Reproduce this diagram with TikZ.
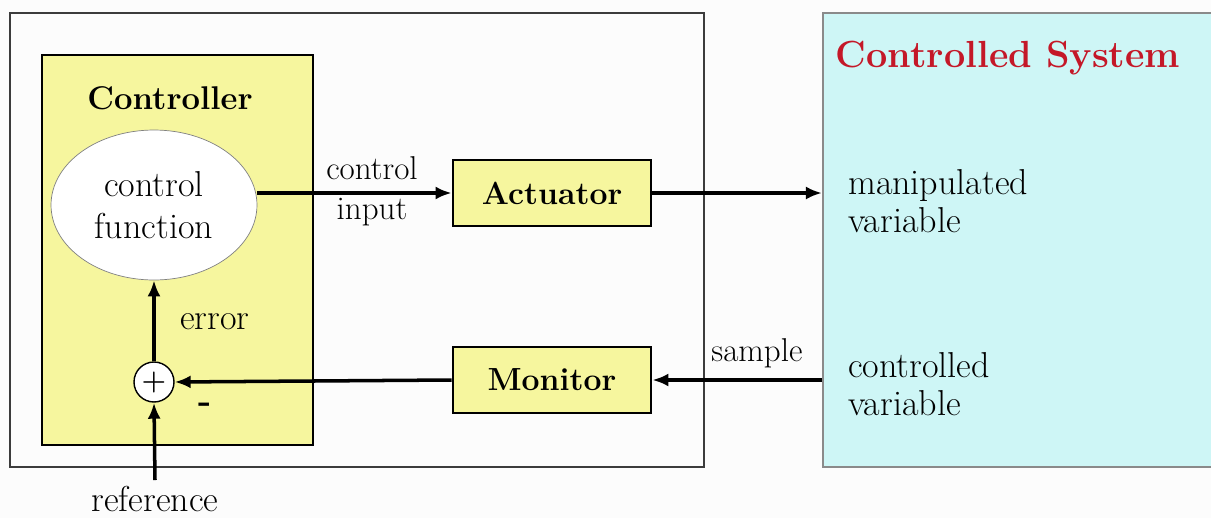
\documentclass[tikz,border=0pt]{standalone}
\usetikzlibrary{shapes,arrows,arrows.meta,positioning,calc}
\definecolor{paleyellow}{RGB}{246,246,158}
\definecolor{palecyan}{RGB}{206,246,246}
\definecolor{darkred}{RGB}{196,24,40}
\definecolor{framegray}{RGB}{60,60,60}

\begin{document}
\begin{tikzpicture}[x=0.02cm,y=-0.02cm,
  block/.style={draw,line width=1.6pt,fill=paleyellow,minimum width=3.96cm,minimum height=1.32cm,
    font=\fontsize{18.2}{21}\selectfont\bfseries},
  flow/.style={-{Latex[length=3.2mm,width=2.6mm]},line width=2pt},
  lbl/.style={font=\fontsize{20.5}{23.8}\selectfont,align=center},
  small/.style={font=\fontsize{18.8}{22.7}\selectfont,align=center}]
  \useasboundingbox[fill=white!98!gray] (0,0) rectangle (1211,518);

  % Frames
  \node[draw=framegray,line width=1.4pt,minimum width=13.88cm,minimum height=9.08cm] (outer) at (357,240) {};
  \node[draw=framegray!60,line width=1.2pt,fill=palecyan,minimum width=8.2cm,minimum height=9.08cm] (sys) at (1028,240) {};
  \node[draw,line width=1.6pt,fill=paleyellow,minimum width=5.42cm,minimum height=7.8cm] (ctrlbox) at (177.5,250) {};

  % Controller parts
  \node[font=\fontsize{18.7}{21}\selectfont\bfseries] (ctrllbl) at (170,98) {Controller};
  \node[ellipse,draw=gray,thin,fill=white,minimum width=4.12cm,minimum height=3cm,lbl] (fn) at (154,205) {control\\function};
  \node[circle,draw,thick,fill=white,minimum size=0.8cm,inner sep=0pt,font=\fontsize{16}{18}\selectfont\bfseries] (sum) at (154,382) {+};
  \node[lbl] (errlbl) at (215,322) {error};
  \node[font=\fontsize{20}{24}\selectfont\bfseries] (minus) at (205,408) {-};
  \node[lbl] (reflbl) at (155,499) {reference};

  % Actuator and monitor
  \node[block] (act) at (552,193) {Actuator};
  \node[block] (mon) at (552,380) {Monitor};
  \node[small] (cinlbl) at (372,191) {control\\input};
  \node[small] (smplbl) at (757,353) {sample};

  % Controlled system texts
  \node[font=\fontsize{21.5}{26}\selectfont\bfseries,text=darkred] (syslbl) at (1008,58) {Controlled System};
  \node[lbl,anchor=west,align=left] (manlbl) at (842,201) {manipulated\\[-2pt]variable};
  \node[lbl,anchor=west,align=left] (conlbl) at (842,384) {controlled\\[-2pt]variable};

  % Signal flow
  \draw[flow] (fn.east |- act.west) -- (act.west);
  \draw[flow] (act.east) -- (sys.west |- act.east);
  \draw[flow] (sys.west |- mon.east) -- (mon.east);
  \draw[flow] (mon.west) -- (sum.east);
  \draw[flow] (sum.north) -- (fn.south);
  \draw[flow] (reflbl.north) -- (sum.south);
\end{tikzpicture}
\end{document}
